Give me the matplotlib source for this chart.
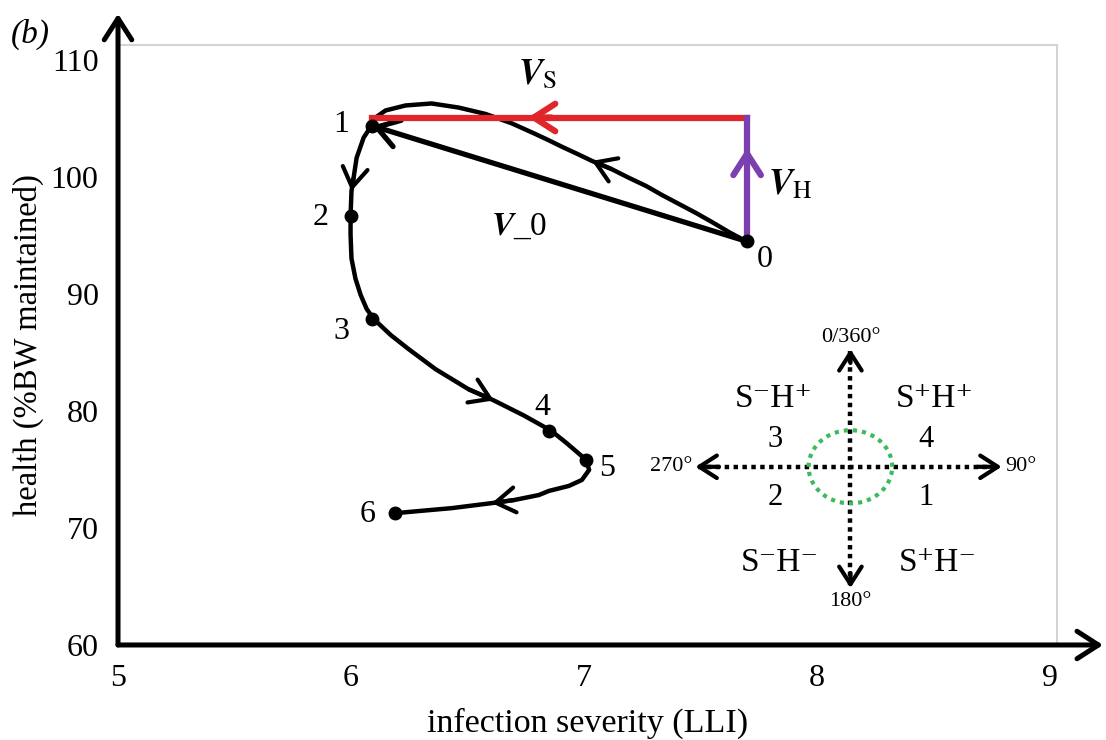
import numpy as np
import matplotlib.pyplot as plt

plt.rcParams['font.family'] = ['Liberation Serif', 'DejaVu Serif']
plt.rcParams['mathtext.fontset'] = 'stix'

# labelled time points (infection severity, health)
point_x = [7.70, 6.09, 6.00, 6.09, 6.85, 7.01, 6.19]
point_y = [94.5, 104.4, 96.7, 87.9, 78.3, 75.8, 71.3]
point_labels = ['0', '1', '2', '3', '4', '5', '6']

# trajectory, 0 -> 1 (looping arc)
arc_x = [7.697, 7.624, 7.551, 7.482, 7.409, 7.335, 7.267, 7.194, 7.116, 7.034,
         6.970, 6.905, 6.849, 6.790, 6.690, 6.578, 6.462, 6.346, 6.234, 6.148,
         6.105, 6.088]
arc_y = [94.51, 95.28, 96.14, 96.92, 97.69, 98.47, 99.24, 99.93, 100.71, 101.39,
         102.00, 102.60, 103.15, 103.70, 104.60, 105.40, 105.95, 106.30, 106.13,
         105.70, 105.09, 104.41]

# trajectory 1 -> 6
path_x = [6.088, 6.054, 6.024, 6.011, 6.002, 5.998, 5.998, 6.002, 6.019, 6.041,
          6.067, 6.097, 6.170, 6.247, 6.363, 6.505, 6.613, 6.742, 6.858, 6.923,
          7.009, 7.022, 6.991, 6.935, 6.849, 6.806, 6.699, 6.604, 6.432, 6.290,
          6.191]
path_y = [104.41, 103.37, 101.65, 99.93, 98.81, 96.66, 95.11, 93.05, 91.33, 89.95,
          88.74, 87.88, 86.51, 85.30, 83.58, 81.86, 80.91, 79.62, 78.33, 77.30,
          75.83, 74.97, 74.11, 73.60, 73.17, 72.82, 72.39, 72.13, 71.70, 71.45,
          71.27]

# where the direction arrows sit on the traced paths
arc_arrows = [9]
path_arrows = [4, 16, 27]

# vectors
vs_y = 105.1      # level of the V_S (severity) component
vs_head_x = 6.76
vh_head_y = 102.5

fig = plt.figure(figsize=(11.06, 7.40), dpi=100)
ax = fig.add_axes([0.1067, 0.1284, 0.849, 0.8108])
ax.set_xlim(5, 9.03)
ax.set_ylim(60, 111.3)
ax.set_xticks([5, 6, 7, 8, 9])
ax.set_yticks([60, 70, 80, 90, 100, 110])
ax.tick_params(length=0, labelsize=23, pad=14)
for s in ['left', 'bottom']:
    ax.spines[s].set_visible(False)
for s in ['top', 'right']:
    ax.spines[s].set_color('#d4d4d4')
    ax.spines[s].set_linewidth(1.5)

head = 'head_length=0.7,head_width=0.45'

# axis arrows
ax.annotate('', xy=(0, 1.052), xytext=(0, 0), xycoords='axes fraction',
            arrowprops=dict(arrowstyle='->,' + head, lw=3.6, color='black',
                            shrinkA=0, shrinkB=0, mutation_scale=22))
ax.annotate('', xy=(1.049, 0), xytext=(0, 0), xycoords='axes fraction',
            arrowprops=dict(arrowstyle='->,' + head, lw=3.6, color='black',
                            shrinkA=0, shrinkB=0, mutation_scale=22))

ax.set_xlabel('infection severity (LLI)', fontsize=24.5, labelpad=10)
ax.set_ylabel('health (%BW maintained)', fontsize=23.5, labelpad=5)
fig.text(0.010, 0.942, '(b)', fontsize=24, style='italic')

# trajectory
ax.plot(arc_x, arc_y, color='black', lw=3.2, solid_capstyle='round', solid_joinstyle='round')
ax.plot(path_x, path_y, color='black', lw=3.2, solid_capstyle='round', solid_joinstyle='round')
for xs, ys, idx in [(arc_x, arc_y, arc_arrows), (path_x, path_y, path_arrows)]:
    for i in idx:
        ax.annotate('', xy=(xs[i], ys[i]), xytext=(xs[i - 1], ys[i - 1]),
                    arrowprops=dict(arrowstyle='->,' + head, lw=3, color='black',
                                    shrinkA=0, shrinkB=0, mutation_scale=20))

ax.plot(point_x, point_y, 'o', color='black', ms=9, zorder=5)
offsets = [(13, -13), (-22, 1), (-22, -1), (-22, -9), (-5, 17), (15, -6), (-20, -1)]
for x, y, lab, off in zip(point_x, point_y, point_labels, offsets):
    ax.annotate(lab, (x, y), xytext=off, textcoords='offset points',
                ha='center', va='center', fontsize=23)

# V_0 : straight vector from 0 to 1
ax.annotate('', xy=(point_x[1], point_y[1]), xytext=(point_x[0], point_y[0]),
            arrowprops=dict(arrowstyle='->,' + head, lw=3.8, color='black',
                            shrinkA=0, shrinkB=0, mutation_scale=22))

# V_S (red) and V_H (purple)
ax.plot([point_x[0], point_x[1]], [vs_y, vs_y], color='#e0262b', lw=4.5, zorder=4)
ax.annotate('', xy=(vs_head_x, vs_y), xytext=(vs_head_x + 0.1, vs_y),
            arrowprops=dict(arrowstyle='->,' + head, lw=4.5, color='#e0262b',
                            shrinkA=0, shrinkB=0, mutation_scale=22), zorder=4)
ax.plot([point_x[0], point_x[0]], [point_y[0], vs_y], color='#7b3fb0', lw=4.5, zorder=4)
ax.annotate('', xy=(point_x[0], vh_head_y), xytext=(point_x[0], vh_head_y - 1),
            arrowprops=dict(arrowstyle='->,' + head, lw=4.5, color='#7b3fb0',
                            shrinkA=0, shrinkB=0, mutation_scale=22), zorder=4)

ax.text(6.80, 108.7, r'$\boldsymbol{V}_{\mathrm{S}}$', fontsize=26, ha='center', va='center')
ax.text(7.885, 99.3, r'$\boldsymbol{V}_{\mathrm{H}}$', fontsize=26, ha='center', va='center')
ax.text(6.72, 95.8, r'$\boldsymbol{V}$_0', fontsize=24, ha='center', va='center')

# orientation key (axes fraction coordinates)
cx, cy = 0.780, 0.297
ax.plot([cx, cx], [0.10, 0.49], transform=ax.transAxes, color='black', ls=(0, (1, 1)), lw=3.2)
ax.plot([0.618, 0.938], [cy, cy], transform=ax.transAxes, color='black', ls=(0, (1, 1)), lw=3.2)
for tip, tail in [((cx, 0.493), (cx, 0.47)), ((cx, 0.095), (cx, 0.12)),
                  ((0.615, cy), (0.64, cy)), ((0.941, cy), (0.915, cy))]:
    ax.annotate('', xy=tip, xytext=tail, xycoords='axes fraction',
                arrowprops=dict(arrowstyle='->,' + head, lw=3, color='black',
                                shrinkA=0, shrinkB=0, mutation_scale=18))
t = np.linspace(0, 2 * np.pi, 200)
ax.plot(cx + 0.0445 * np.cos(t), cy + 0.061 * np.sin(t), transform=ax.transAxes,
        color='#3dbb5c', ls=(0, (1, 1.2)), lw=3)

kw = dict(transform=ax.transAxes, ha='center', va='center')
ax.text(cx, 0.513, '0/360°', fontsize=16, **kw)
ax.text(cx, 0.072, '180°', fontsize=16, **kw)
ax.text(0.612, cy, '270°', fontsize=16, transform=ax.transAxes, ha='right', va='center')
ax.text(0.945, cy, '90°', fontsize=16, transform=ax.transAxes, ha='left', va='center')
ax.text(0.698, 0.410, 'S⁻H⁺', fontsize=24, **kw)
ax.text(0.870, 0.410, 'S⁺H⁺', fontsize=24, **kw)
ax.text(0.705, 0.137, 'S⁻H⁻', fontsize=24, **kw)
ax.text(0.873, 0.137, 'S⁺H⁻', fontsize=24, **kw)
ax.text(0.700, 0.343, '3', fontsize=22, **kw)
ax.text(0.860, 0.343, '4', fontsize=22, **kw)
ax.text(0.700, 0.245, '2', fontsize=22, **kw)
ax.text(0.860, 0.245, '1', fontsize=22, **kw)

fig.savefig('out.png', dpi=100)
